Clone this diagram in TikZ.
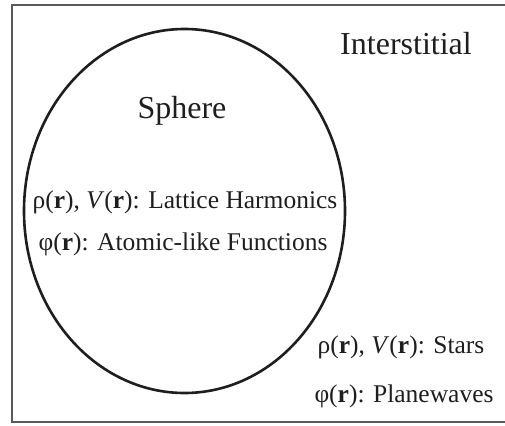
\documentclass[tikz,border=0pt]{standalone}
\usepackage{fontspec}
\setmainfont{Liberation Serif}
\usetikzlibrary{shapes.geometric}
\definecolor{ink}{HTML}{1E1E1E}
\definecolor{frame}{HTML}{5A5A5A}
\tikzset{
  bigtxt/.style={text=ink, inner sep=0pt, anchor=base, font=\fontsize{32}{36}\selectfont},
  smalltxt/.style={text=ink, inner sep=0pt, anchor=base, font=\fontsize{25.5}{30}\selectfont},
  boxline/.style={draw=frame, line width=1.6pt},
  sphereline/.style={draw=ink, line width=2.6pt}
}
\newcommand{\rv}{\textbf{r}}
\begin{document}
\begin{tikzpicture}[x=1pt,y=-1pt]
\useasboundingbox (0,0) rectangle (505,425);
\draw[boxline] (12,5) rectangle (510,422);
\node[sphereline, ellipse, minimum width=321pt, minimum height=364pt, inner sep=0pt] (sphere) at (184.5,211) {};
\node[bigtxt] (interstitial) at (406,55) {Interstitial};
\node[bigtxt] (spherelabel) at (182,118) {Sphere};
\node[smalltxt] (lattice) at (185,208) {ρ(\rv), \textit{V}(\rv): Lattice Harmonics};
\node[smalltxt] (atomic) at (183,250) {φ(\rv): Atomic-like Functions};
\node[smalltxt] (stars) at (401,353) {ρ(\rv), \textit{V}(\rv): Stars};
\node[smalltxt] (planewaves) at (404,402) {φ(\rv): Planewaves};
\end{tikzpicture}
\end{document}
